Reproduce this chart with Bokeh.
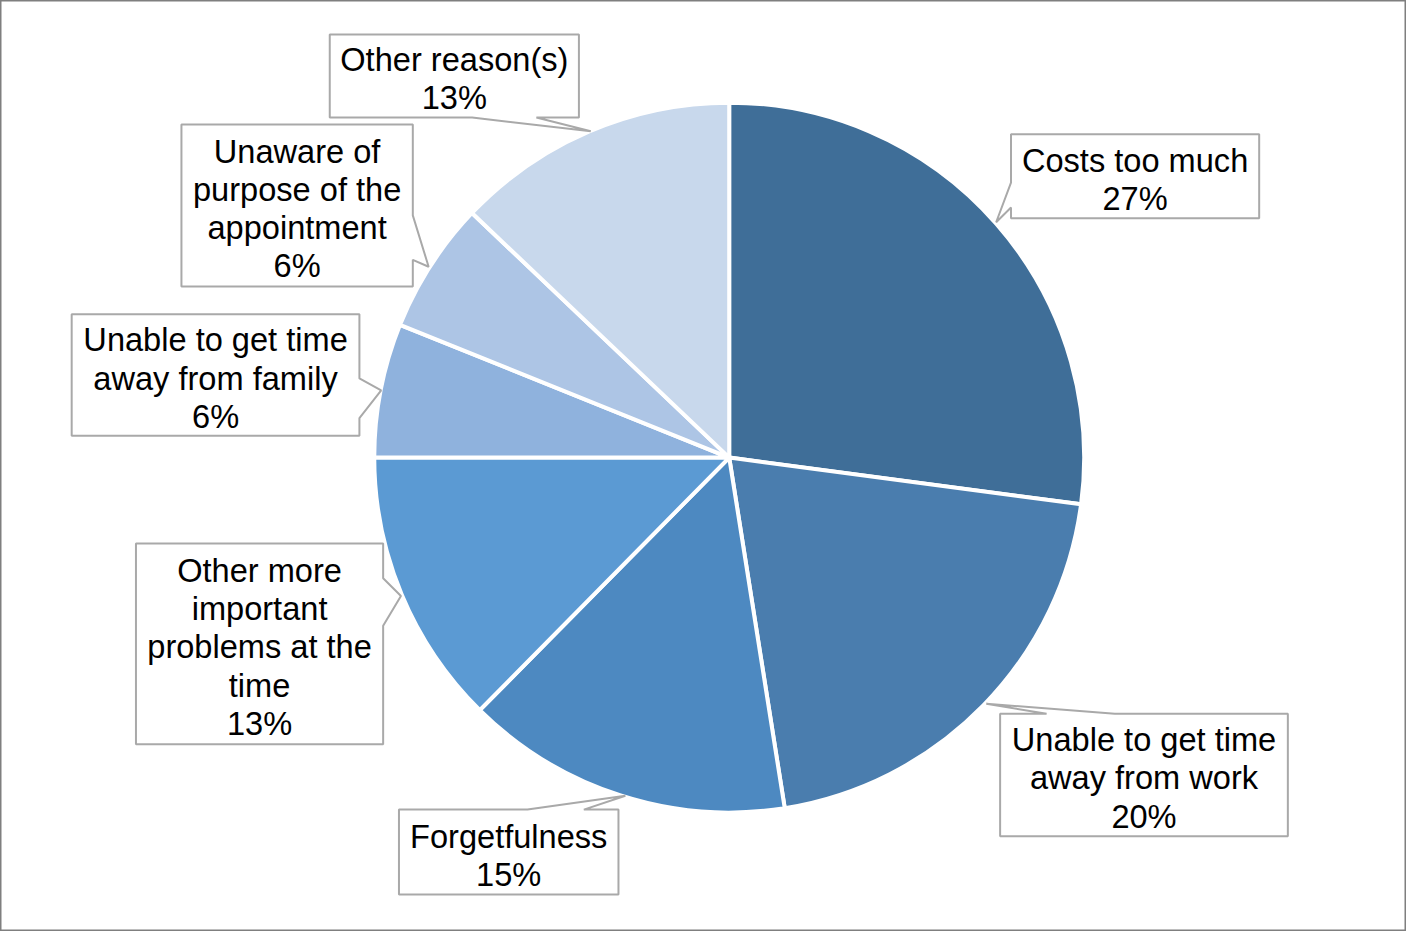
import numpy as np

from bokeh.core.properties import value
from bokeh.embed import file_html
from bokeh.models import ColumnDataSource, Range1d
from bokeh.plotting import figure
from bokeh.resources import INLINE

# data, clockwise from 12 o'clock
reasons = ["Costs too much", "Unable to get time away from work", "Forgetfulness",
           "Other more important problems at the time", "Unable to get time away from family",
           "Unaware of purpose of the appointment", "Other reason(s)"]
shares = [27.1, 20.4, 14.9, 12.6, 6.1, 6.0, 12.9]
colors = ["#3F6E98", "#4A7DAE", "#4D89C1", "#5B9AD3", "#8FB2DD", "#ADC5E5", "#C8D8EC"]

# how each label is broken into lines in the figure
label_lines = [["Costs too much"],
               ["Unable to get time", "away from work"],
               ["Forgetfulness"],
               ["Other more", "important", "problems at the", "time"],
               ["Unable to get time", "away from family"],
               ["Unaware of", "purpose of the", "appointment"],
               ["Other reason(s)"]]

W, H = 1422, 947          # reference size; layout below is in its pixels
PW, PH = W - 16, H - 16   # figure size that fits the page
k = PW / W                # screen pixels per layout pixel


def fy(Y):
    # layout row (down) -> data y (up)
    return H - Y


# callout boxes: box, and the pointer (base, tip, base) on one side
callouts = [
    dict(box=(1022, 138, 1273, 223), side="left", ptr=[(1022, 212), (1007, 227), (1022, 187)]),
    dict(box=(1011, 724, 1302, 848), side="top", ptr=[(1058, 724), (997, 714), (1127, 724)]),
    dict(box=(403, 821, 625, 907), side="top", ptr=[(533, 821), (632, 807), (590, 821)]),
    dict(box=(137, 552, 387, 755), side="right", ptr=[(387, 587), (405, 605), (387, 635)]),
    dict(box=(72, 320, 363, 443), side="right", ptr=[(363, 385), (385, 397), (363, 425)]),
    dict(box=(183, 128, 417, 292), side="right", ptr=[(417, 220), (433, 272), (417, 265)]),
    dict(box=(333, 37, 585, 121), side="bottom", ptr=[(585, 121), (542, 121), (597, 135), (477, 121)]),
]

yspan = PH / k
p = figure(width=PW, height=PH, output_backend="svg", toolbar_location=None,
           x_range=Range1d(0, W), y_range=Range1d(H / 2 - yspan / 2, H / 2 + yspan / 2),
           min_border=0)
p.axis.visible = False
p.grid.grid_line_color = None
p.outline_line_color = "#7F7F7F"
p.outline_line_width = 2
p.background_fill_color = "white"

# pie
cx, cy, r = 737, fy(465), 359
frac = np.array(shares) / sum(shares)
cum = np.concatenate([[0], np.cumsum(frac)])
src = ColumnDataSource(dict(
    start=np.pi / 2 - 2 * np.pi * cum[:-1],
    end=np.pi / 2 - 2 * np.pi * cum[1:],
    color=colors,
    reason=reasons,
))
p.wedge(x=cx, y=cy, radius=r, start_angle="start", end_angle="end", direction="clock",
        fill_color="color", line_color="white", line_width=4, source=src)

# callout bubbles
xs, ys = [], []
for c in callouts:
    x0, y0, x1, y1 = c["box"]
    s = c["side"]
    if s == "left":
        pts = [(x0, y0), (x1, y0), (x1, y1), (x0, y1)] + c["ptr"]
    elif s == "right":
        pts = [(x0, y0), (x1, y0)] + c["ptr"] + [(x1, y1), (x0, y1)]
    elif s == "top":
        pts = [(x0, y0)] + c["ptr"] + [(x1, y0), (x1, y1), (x0, y1)]
    else:
        pts = [(x0, y0), (x1, y0)] + c["ptr"] + [(x0, y1)]
    xs.append([q[0] for q in pts])
    ys.append([fy(q[1]) for q in pts])
p.patches(xs, ys, fill_color="white", line_color="#A9A9A9", line_width=2)

# label text
tx, ty, tt = [], [], []
lh = 38.5
for c, lines, v in zip(callouts, label_lines, shares):
    x0, y0, x1, y1 = c["box"]
    allines = lines + [f"{round(v)}%"]
    n = len(allines)
    mid = (y0 + y1) / 2
    for i, s in enumerate(allines):
        tx.append((x0 + x1) / 2)
        ty.append(fy(mid + (i - (n - 1) / 2) * lh + 3))
        tt.append(s)
p.text(tx, ty, text=tt, text_align="center", text_baseline="alphabetic",
       text_font=value("Liberation Sans"), text_font_size=f"{33 * k:.1f}px", text_color="black")

open("out.html", "w").write(file_html(p, INLINE))
